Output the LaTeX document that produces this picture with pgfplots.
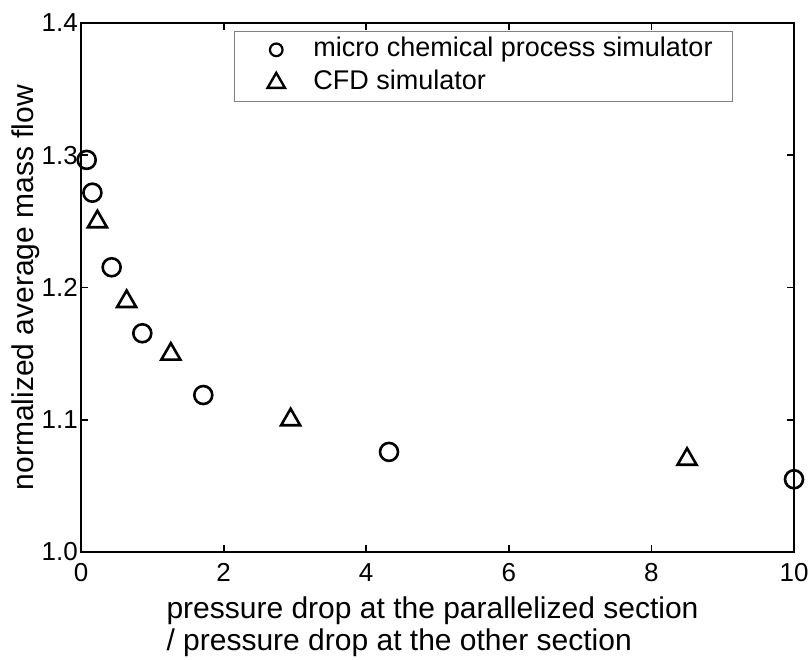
\documentclass[border=0pt]{standalone}
\usepackage{fontspec}
\setmainfont{Liberation Sans}
\usepackage{pgfplots}
\pgfplotsset{compat=1.18}

\begin{document}
\fontsize{30}{32}\selectfont
\begin{tikzpicture}
\begin{axis}[
    scale only axis,
    width=713pt,
    height=529pt,
    xmin=0, xmax=10,
    ymin=1.0, ymax=1.4,
    xtick={0,2,4,6,8,10},
    ytick={1.0,1.1,1.2,1.3,1.4},
    /pgf/number format/assume math mode=true,
    ticklabel style={font=\fontsize{26}{30}\selectfont},
    yticklabel style={/pgf/number format/fixed, /pgf/number format/fixed zerofill,
        /pgf/number format/precision=1, inner sep=0pt, xshift=-3pt},
    xticklabel style={inner sep=0pt, yshift=-11pt},
    tick align=inside,
    tick pos=both,
    major tick length=7pt,
    every tick/.style={black, line width=1.8pt},
    axis line style={line width=2.8pt},
    xlabel={pressure drop at the parallelized section\\/ pressure drop at the other section},
    xlabel style={align=left, inner sep=0pt, anchor=north,
        at={(axis description cs:0.5,0)}, yshift=-45pt, xshift=-5pt},
    ylabel={normalized average mass flow},
    ylabel style={inner sep=0pt, anchor=base, at={(axis description cs:-0.0673,0.5)}},
    legend style={at={(0.9144,0.985)}, anchor=north east, draw=gray, line width=0.8pt,
        inner xsep=20pt, inner ysep=6pt, row sep=8pt,
        font=\fontsize{27}{30}\selectfont,
        nodes={inner sep=0pt, text height=19pt, text depth=6pt}},
    legend cell align=left,
    legend image code/.code={
        \path (0pt,0pt) (57pt,0pt);
        \draw[mark repeat=2, mark phase=2, #1] plot coordinates {(20pt,0pt) (21pt,0pt) (22pt,0pt)};
    },
]
\addplot[only marks, mark=o, mark size=9pt, line width=2.6pt,
    legend image post style={mark size=6.3pt, line width=2.2pt}]
    coordinates {(0.08,1.2965) (0.16,1.2717) (0.43,1.2153) (0.86,1.1654)
                 (1.715,1.1187) (4.32,1.0757) (10.0,1.055)};
\addlegendentry{micro chemical process simulator}
\addplot[only marks, mark=triangle, mark size=11pt, line width=2.6pt,
    legend image post style={mark size=10pt, line width=2.4pt}]
    coordinates {(0.23,1.2497) (0.64,1.1894) (1.26,1.1496) (2.94,1.1000) (8.5,1.0701)};
\addlegendentry{CFD simulator}
\end{axis}
\pgfresetboundingbox
\path ([shift={(-81pt,-107pt)}]current axis.south west) rectangle ++(808pt,659pt);
\end{tikzpicture}
\end{document}
